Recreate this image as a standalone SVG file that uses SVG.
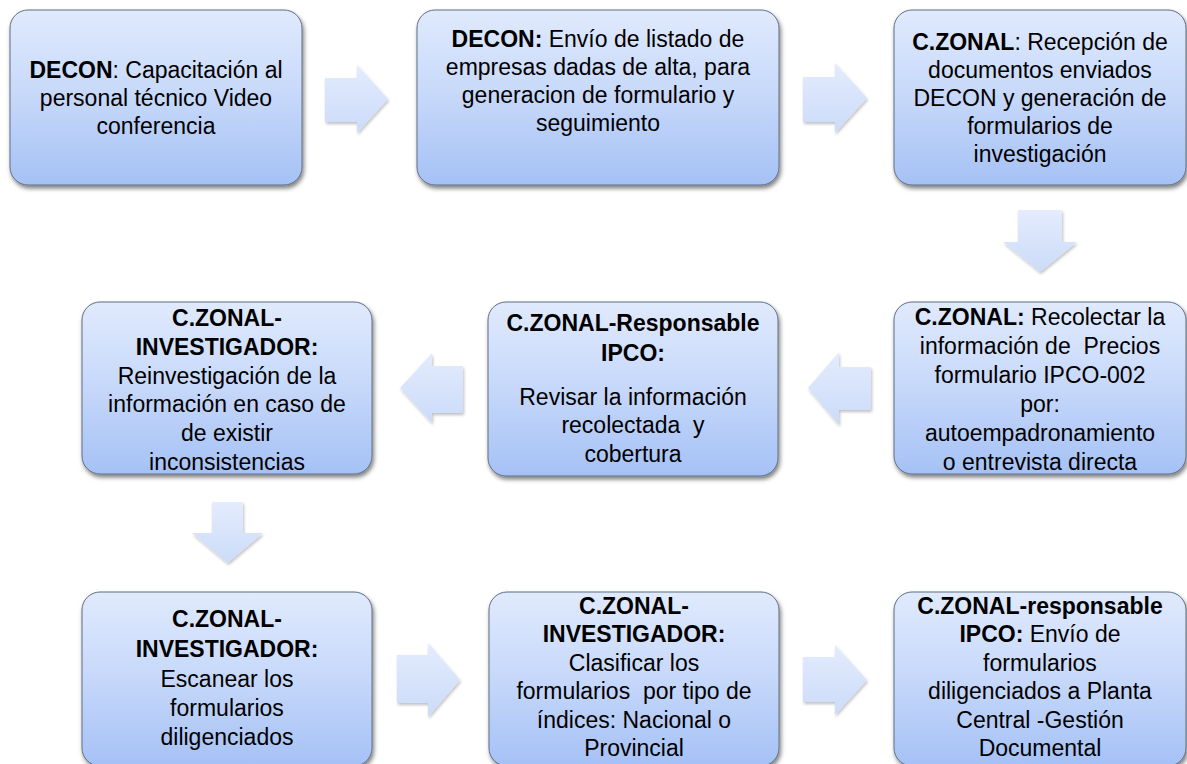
<svg xmlns="http://www.w3.org/2000/svg" width="1187" height="764" viewBox="0 0 1187 764">
<defs>
<linearGradient id="gBox" x1="0" y1="0" x2="0" y2="1">
<stop offset="0" stop-color="#e0eafd"/>
<stop offset="0.5" stop-color="#c6d8fa"/>
<stop offset="1" stop-color="#a5c1f5"/>
</linearGradient>
<linearGradient id="gArr" x1="0" y1="0" x2="0" y2="1">
<stop offset="0" stop-color="#e4ecfd"/>
<stop offset="1" stop-color="#cbdbf9"/>
</linearGradient>
<filter id="sh" x="-10%" y="-10%" width="125%" height="130%">
<feDropShadow dx="1.5" dy="3" stdDeviation="2" flood-color="#000" flood-opacity="0.5"/>
</filter>
<filter id="shA" x="-20%" y="-20%" width="150%" height="150%">
<feDropShadow dx="1" dy="2" stdDeviation="1.5" flood-color="#000" flood-opacity="0.25"/>
</filter>
</defs>
<style>
.box{fill:url(#gBox);stroke:#5f6e84;stroke-width:1;filter:url(#sh)}
.arr{fill:url(#gArr);stroke:none;filter:url(#shA)}
text{font-family:"Liberation Sans",Arial,sans-serif;font-size:23px;fill:#000;text-anchor:middle}
.b{font-weight:bold}
</style>
<rect width="1187" height="764" fill="#fff"/>
<g id="connectors">
<path class="arr" d="M325,78 H357 V65 L388,99 L357,133 V122 H325 Z"/>
<path class="arr" d="M803,77 H835 V63 L867,98 L835,133 V122 H803 Z"/>
<path class="arr" d="M1018,210 H1062 V242 H1077 L1040,272 L1003,242 H1018 Z"/>
<path class="arr" d="M871,367 H839 V352 L808,388 L839,425 V410 H871 Z"/>
<path class="arr" d="M463,366 H432 V353 L400,388 L432,423 V413 H463 Z"/>
<path class="arr" d="M212,502 H243 V533 H263 L227.5,563 L192,533 H212 Z"/>
<path class="arr" d="M397,655 H428 V643 L460,680 L428,717 V703 H397 Z"/>
<path class="arr" d="M803,657 H835 V645 L867,680 L835,715 V702 H803 Z"/>
</g>
<g id="n1">
<rect class="box" x="10" y="10" width="292" height="175" rx="18"/>
<text x="156" y="78"><tspan class="b">DECON</tspan>: Capacitación al</text>
<text x="156" y="106">personal técnico Video</text>
<text x="156" y="134">conferencia</text>
</g>
<g id="n2">
<rect class="box" x="417" y="10" width="362" height="175" rx="18"/>
<text x="598" y="47"><tspan class="b">DECON:</tspan> Envío de listado de</text>
<text x="598" y="75">empresas dadas de alta, para</text>
<text x="598" y="103">generacion de formulario y</text>
<text x="598" y="131">seguimiento</text>
</g>
<g id="n3">
<rect class="box" x="894" y="10" width="292" height="175" rx="18"/>
<text x="1040" y="50"><tspan class="b">C.ZONAL</tspan>: Recepción de</text>
<text x="1040" y="78">documentos enviados</text>
<text x="1040" y="106">DECON y generación de</text>
<text x="1040" y="134">formularios de</text>
<text x="1040" y="162">investigación</text>
</g>
<g id="n4">
<rect class="box" x="894" y="302" width="292" height="172" rx="18"/>
<text x="1040" y="325"><tspan class="b">C.ZONAL:</tspan> Recolectar la</text>
<text x="1040" y="354" xml:space="preserve">información de  Precios</text>
<text x="1040" y="383">formulario IPCO-002</text>
<text x="1040" y="412">por:</text>
<text x="1040" y="441">autoempadronamiento</text>
<text x="1040" y="470">o entrevista directa</text>
</g>
<g id="n5">
<rect class="box" x="488" y="302" width="290" height="174" rx="18"/>
<text x="633" y="331" class="b">C.ZONAL-Responsable</text>
<text x="633" y="361" class="b">IPCO:</text>
<text x="633" y="405">Revisar la información</text>
<text x="633" y="433" xml:space="preserve">recolectada  y</text>
<text x="633" y="462">cobertura</text>
</g>
<g id="n6">
<rect class="box" x="82" y="302" width="290" height="172" rx="18"/>
<text x="227" y="326" class="b">C.ZONAL-</text>
<text x="227" y="355" class="b">INVESTIGADOR:</text>
<text x="227" y="384">Reinvestigación de la</text>
<text x="227" y="412">información en caso de</text>
<text x="227" y="441">de existir</text>
<text x="227" y="470">inconsistencias</text>
</g>
<g id="n7">
<rect class="box" x="82" y="592" width="290" height="174" rx="18"/>
<text x="227" y="627" class="b">C.ZONAL-</text>
<text x="227" y="657" class="b">INVESTIGADOR:</text>
<text x="227" y="687">Escanear los</text>
<text x="227" y="716">formularios</text>
<text x="227" y="745">diligenciados</text>
</g>
<g id="n8">
<rect class="box" x="489" y="592" width="290" height="174" rx="18"/>
<text x="634" y="614" class="b">C.ZONAL-</text>
<text x="634" y="642" class="b">INVESTIGADOR:</text>
<text x="634" y="671">Clasificar los</text>
<text x="634" y="699" xml:space="preserve">formularios  por tipo de</text>
<text x="634" y="728">índices: Nacional o</text>
<text x="634" y="756">Provincial</text>
</g>
<g id="n9">
<rect class="box" x="894" y="592" width="292" height="174" rx="18"/>
<text x="1040" y="614" class="b">C.ZONAL-responsable</text>
<text x="1040" y="642"><tspan class="b">IPCO:</tspan> Envío de</text>
<text x="1040" y="671">formularios</text>
<text x="1040" y="699">diligenciados a Planta</text>
<text x="1040" y="728">Central -Gestión</text>
<text x="1040" y="756">Documental</text>
</g>
</svg>
